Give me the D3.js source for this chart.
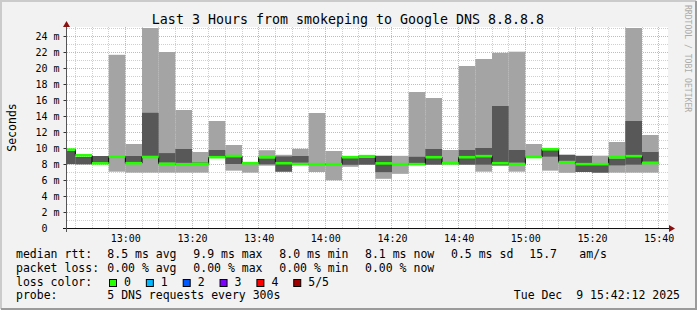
<!DOCTYPE html>
<html>
<head>
<meta charset="utf-8">
<script src="https://cdn.jsdelivr.net/npm/d3@7"></script>
<style>
body { margin: 0; background: #f2f2f2; }
text { font-family: "DejaVu Sans Mono", monospace; fill: #000; white-space: pre; }
</style>
</head>
<body>
<script>
// end time of each 5 minute step (smokeping rrd rows)
const stepEnd = ["12:45","12:50","12:55","13:00","13:05","13:10","13:15","13:20","13:25","13:30",
    "13:35","13:40","13:45","13:50","13:55","14:00","14:05","14:10","14:15","14:20",
    "14:25","14:30","14:35","14:40","14:45","14:50","14:55","15:00","15:05","15:10",
    "15:15","15:20","15:25","15:30","15:35","15:40"];

// sorted pings in ms: fastest, 2nd, median, 4th, slowest
const pingMin = [7.96,7.96,8.0,7.04,6.92,6.92,6.92,6.92,6.92,8.8,7.17,6.92,7.79,7.04,7.96,7.0,5.96,7.65,7.92,6.15,
    6.77,7.9,7.92,7.92,7.92,7.04,7.79,7.04,8.8,7.17,6.9,7.0,6.92,6.92,6.92,6.92];
const pingLow = [8.0,7.96,8.25,8.8,8.25,8.8,8.17,8.15,8.0,9.0,8.0,8.0,7.96,7.04,8.17,7.95,7.95,7.9,7.92,6.98,
    7.95,7.96,7.92,8.0,7.92,7.92,7.83,8.17,8.8,8.92,8.4,7.0,6.92,7.83,7.92,8.29];
const pingMedian = [9.8,9.08,8.08,8.9,8.1,8.875,8.02,7.96,8.02,8.85,9.0,8.1,8.85,8.1,7.98,7.98,7.98,8.85,8.98,8.08,
    7.98,7.98,8.85,8.1,8.85,8.98,8.1,7.98,8.875,9.84,8.22,7.98,7.98,8.85,8.98,8.125];
const pingHigh = [9.63,8.875,9.0,8.9,9.0,14.4,9.36,9.875,8.2,9.75,8.85,8.2,8.7,8.95,9.0,8.05,8.05,8.75,8.8,9.02,
    8.05,8.9,9.875,8.2,9.75,10.0,15.25,9.75,8.9,9.75,9.15,9.02,8.0,8.65,13.375,9.5];
const pingMax = [9.63,8.9,9.0,21.65,10.5,26.5,22.0,14.75,9.5,13.375,10.375,8.2,9.72,9.15,9.9,14.375,9.625,8.8,8.8,9.02,
    9.02,17.0,16.25,9.75,20.25,21.125,21.9,22.04,10.5,9.84,9.15,9.02,9.04,10.75,26.5,11.625];

const yLabels = [0,2,4,6,8,10,12,14,16,18,20,22,24];
const xLabels = ["13:00","13:20","13:40","14:00","14:20","14:40","15:00","15:20","15:40"];

const lossNames = ["0","1","2","3","4","5/5"];
const lossColors = ["#26ff00","#00b8ff","#0059ff","#7e00ff","#ff0000","#a00000"];

const rttLegend = ["8.5 ms avg","9.9 ms max","8.0 ms min","8.1 ms now","0.5 ms sd","15.7"];
const lossLegend = ["0.00 % avg","0.00 % max","0.00 % min","0.00 % now"];

const W = 697, H = 310;
const parseT = d3.timeParse("%Y-%m-%d %H:%M:%S");
const t = s => parseT("2025-12-09 " + (s.length == 5 ? s + ":00" : s));

const x = d3.scaleTime()
    .domain([t("12:42:30"), t("15:42:30")])
    .range([67, 667]);
const y = d3.scaleLinear()
    .domain([0, 25])
    .range([228, 28]);

const rows = stepEnd.map((e, i) => ({
    end: t(e),
    start: d3.timeMinute.offset(t(e), -5),
    min: pingMin[i], low: pingLow[i], med: pingMedian[i], high: pingHigh[i], max: pingMax[i]
}));

const svg = d3.select("body").append("svg")
    .attr("width", W)
    .attr("height", H);

// frame
svg.append("rect").attr("width", W).attr("height", H).attr("fill", "#f2f2f2");
svg.append("path").attr("d", `M1,${H-1}V1H${W-1}`).attr("fill", "none").attr("stroke", "#cbcbcb").attr("stroke-width", 2);
svg.append("path").attr("d", `M1,${H-1}H${W-1}V1`).attr("fill", "none").attr("stroke", "#9b9b9b").attr("stroke-width", 2);

// canvas
svg.append("rect")
    .attr("x", 67).attr("y", 27)
    .attr("width", 601).attr("height", 201)
    .attr("fill", "#fff");

svg.append("clipPath").attr("id", "plot")
    .append("rect")
    .attr("x", x.range()[0]).attr("y", y(25))
    .attr("width", x.range()[1] - x.range()[0]).attr("height", y(0) - y(25));

// grid
let grid = svg.append("g").attr("stroke-dasharray", "1,1").attr("fill", "none");
let minorY = d3.range(1, 26).filter(v => v % 2);
let majorY = d3.range(2, 26, 2);
let minorX = d3.timeMinute.every(5).range(x.domain()[0], x.domain()[1]).filter(d => d.getMinutes() % 20);
let majorX = d3.timeMinute.every(20).range(x.domain()[0], x.domain()[1]);

grid.selectAll(".hmin").data(minorY).enter().append("line")
    .attr("x1", 67).attr("x2", 668)
    .attr("y1", d => Math.round(y(d)) + 0.5).attr("y2", d => Math.round(y(d)) + 0.5)
    .attr("stroke", "#cfcfcf");
grid.selectAll(".vmin").data(minorX).enter().append("line")
    .attr("y1", 27).attr("y2", 228)
    .attr("x1", d => Math.floor(x(d)) + 0.5).attr("x2", d => Math.floor(x(d)) + 0.5)
    .attr("stroke", "#cfcfcf");
grid.selectAll(".hmaj").data(majorY).enter().append("line")
    .attr("x1", 67).attr("x2", 668)
    .attr("y1", d => Math.round(y(d)) + 0.5).attr("y2", d => Math.round(y(d)) + 0.5)
    .attr("stroke", "#f2a7a7");
grid.selectAll(".vmaj").data(majorX).enter().append("line")
    .attr("y1", 27).attr("y2", 228)
    .attr("x1", d => Math.floor(x(d)) + 0.5).attr("x2", d => Math.floor(x(d)) + 0.5)
    .attr("stroke", "#f2a7a7");

// smoke
let plot = svg.append("g").attr("clip-path", "url(#plot)");

plot.selectAll(".smoke1").data(rows).enter().append("rect")
    .attr("x", d => x(d.start))
    .attr("width", d => x(d.end) - x(d.start))
    .attr("y", d => y(d.max))
    .attr("height", d => y(d.min) - y(d.max))
    .attr("fill", "#a4a4a4");

plot.selectAll(".smoke2").data(rows).enter().append("rect")
    .attr("x", d => x(d.start))
    .attr("width", d => x(d.end) - x(d.start))
    .attr("y", d => y(d.high))
    .attr("height", d => y(d.low) - y(d.high))
    .attr("fill", "#585858");

// median
let medLine = d3.line()
    .x(d => x(d[0]))
    .y(d => y(d[1]))
    .curve(d3.curveStepAfter);
let medPts = rows.map(d => [d.start, d.med]);
medPts.push([rows[rows.length - 1].end, rows[rows.length - 1].med]);

plot.append("path")
    .attr("d", medLine(medPts))
    .attr("fill", "none")
    .attr("stroke", "#000")
    .attr("stroke-width", 1);

plot.selectAll(".med").data(rows).enter().append("rect")
    .attr("x", d => x(d.start))
    .attr("width", d => x(d.end) - x(d.start))
    .attr("y", d => y(d.med) - 1.3)
    .attr("height", 2.6)
    .attr("fill", lossColors[0]);

// axes
let yAxis = svg.append("g")
    .attr("transform", "translate(66.5,0)")
    .call(d3.axisLeft(y).tickValues(yLabels).tickSize(3).tickPadding(4)
        .tickFormat(d => d == 0 ? "0  " : d + " m"));
yAxis.select(".domain").remove();
yAxis.selectAll("text")
    .attr("dy", "0.36em")
    .attr("xml:space", "preserve")
    .attr("font-size", 10);
yAxis.selectAll("line").attr("stroke", "#333");

let xAxis = svg.append("g")
    .attr("transform", "translate(0,228)")
    .call(d3.axisBottom(x).tickValues(xLabels.map(t)).tickSize(0).tickPadding(6.4)
        .tickFormat(d3.timeFormat("%H:%M")));
xAxis.select(".domain").remove();
xAxis.selectAll("text").attr("font-size", 10);

svg.append("line")
    .attr("x1", 63).attr("x2", 670)
    .attr("y1", 228.5).attr("y2", 228.5)
    .attr("stroke", "#111");
svg.append("line")
    .attr("x1", 66.5).attr("x2", 66.5)
    .attr("y1", 232).attr("y2", 25)
    .attr("stroke", "#555");
svg.append("path").attr("d", "M669,225V232L675,228.5Z").attr("fill", "#8b1010");
svg.append("path").attr("d", "M63,27H70L66.5,21Z").attr("fill", "#8b1010");

// titles
svg.append("text")
    .attr("x", 348).attr("y", 23.5)
    .attr("text-anchor", "middle")
    .attr("font-size", 13.3)
    .text("Last 3 Hours from smokeping to Google DNS 8.8.8.8");

svg.append("text")
    .attr("transform", "translate(15.5,127.5) rotate(-90)")
    .attr("text-anchor", "middle")
    .attr("font-size", 11.5)
    .text("Seconds");

svg.append("text")
    .attr("transform", "translate(685,5) rotate(90)")
    .attr("font-size", 8.1)
    .style("fill", "#ababab")
    .text("RRDTOOL / TOBI OETIKER");

// legend
const legendY = [258.3, 272, 285.7, 299.4];
const colX = [107.3, 193.3, 279.3, 365, 451, 529.3];
let legend = svg.append("g").attr("font-size", 11.5);

legend.selectAll(".head").data(["median rtt:", "packet loss:", "loss color:", "probe:"]).enter().append("text")
    .attr("x", 16).attr("y", (d, i) => legendY[i])
    .text(d => d);

legend.selectAll(".rtt").data(rttLegend).enter().append("text")
    .attr("x", (d, i) => colX[i]).attr("y", legendY[0])
    .text(d => d);
legend.append("text").attr("x", 579.3).attr("y", legendY[0]).text("am/s");

legend.selectAll(".loss").data(lossLegend).enter().append("text")
    .attr("x", (d, i) => colX[i]).attr("y", legendY[1])
    .text(d => d);

let lossItem = legend.selectAll(".lc").data(lossNames).enter().append("g")
    .attr("transform", (d, i) => `translate(${109 + i * 36.85},0)`);
lossItem.append("rect")
    .attr("x", 0.5).attr("y", 279.5)
    .attr("width", 7).attr("height", 7)
    .attr("fill", (d, i) => lossColors[i])
    .attr("stroke", "#000");
lossItem.append("text")
    .attr("x", 15).attr("y", legendY[2])
    .text(d => d);

legend.append("text").attr("x", colX[0]).attr("y", legendY[3]).text("5 DNS requests every 300s");
legend.append("text").attr("x", 680).attr("y", legendY[3])
    .attr("text-anchor", "end")
    .attr("xml:space", "preserve")
    .text("Tue Dec  9 15:42:12 2025");
</script>
</body>
</html>
